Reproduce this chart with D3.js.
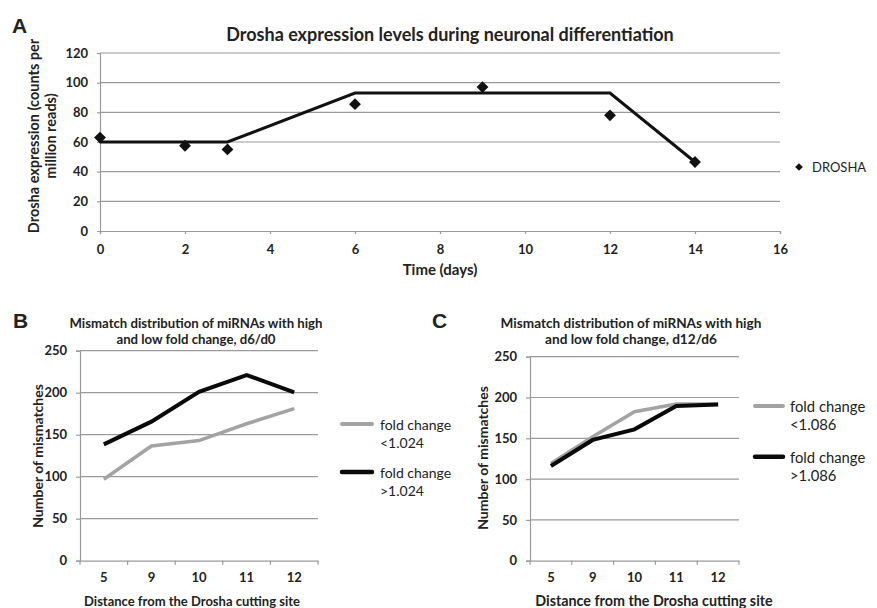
<!DOCTYPE html>
<html>
<head>
<meta charset="utf-8">
<script src="https://cdn.jsdelivr.net/npm/d3@7"></script>
<style>
  body { margin: 0; background: #fff; }
  svg { display: block; }
  text { font-family: Lato, "Open Sans", sans-serif; fill: #222; }
</style>
</head>
<body>
<svg id="chart" width="877" height="608"></svg>
<script>
// panel A data
const days = [0, 2, 3, 6, 9, 12, 14];
const droshaCounts = [63, 57.5, 55, 85.5, 97, 78, 46.5];
const trendDays = [0, 3, 6, 12, 14];
const trendCounts = [60, 60, 93, 93, 46.5];
const timeTicks = [0, 2, 4, 6, 8, 10, 12, 14, 16];
const countTicks = [0, 20, 40, 60, 80, 100, 120];

// panels B and C
const distances = ['5', '9', '10', '11', '12'];
const mismatchTicks = [0, 50, 100, 150, 200, 250];
const lowB = [97, 136.5, 143, 163, 181];
const highB = [138.5, 165.5, 201, 221, 200.5];
const lowC = [119, 152, 182.5, 192, 192];
const highC = [116, 148, 161, 189.5, 191.5];

const svg = d3.select('#chart');
const gridColor = '#9a9a9a';
const grayLine = '#a3a3a3';

function styleAxis(ax) {
  ax.selectAll('path, line').attr('stroke', gridColor).attr('stroke-width', 1.2);
  ax.selectAll('text').style('font-size', '13px').style('font-weight', 'bold')
    .style('font-family', 'Lato, sans-serif').attr('fill', '#333');
}

// ----- panel A -----
const xA = d3.scaleLinear().domain([0, 16]).range([100, 780]);
const yA = d3.scaleLinear().domain([0, 120]).range([231, 53]);

const gA = svg.append('g');

gA.selectAll('line.grid')
  .data(countTicks.filter(d => d > 0))
  .join('line')
  .attr('x1', xA(0)).attr('x2', xA(16))
  .attr('y1', d => yA(d)).attr('y2', d => yA(d))
  .attr('stroke', gridColor).attr('stroke-width', 1.2);

const axisXA = gA.append('g')
  .attr('transform', `translate(0,${yA(0)})`)
  .call(d3.axisBottom(xA).tickValues(timeTicks).tickSize(3).tickPadding(11));
const axisYA = gA.append('g')
  .attr('transform', `translate(${xA(0)},0)`)
  .call(d3.axisLeft(yA).tickValues(countTicks).tickSize(3).tickPadding(9));
styleAxis(axisXA);
styleAxis(axisYA);

gA.append('path')
  .datum(trendDays.map((d, i) => [d, trendCounts[i]]))
  .attr('fill', 'none').attr('stroke', '#111').attr('stroke-width', 3)
  .attr('d', d3.line().x(d => xA(d[0])).y(d => yA(d[1])));

const diamond = d3.symbol().type(d3.symbolSquare).size(70);
gA.selectAll('path.pt')
  .data(days.map((d, i) => [d, droshaCounts[i]]))
  .join('path')
  .attr('class', 'pt')
  .attr('d', diamond)
  .attr('transform', d => `translate(${xA(d[0])},${yA(d[1])}) rotate(45)`)
  .attr('fill', '#111');

gA.append('path')
  .attr('d', d3.symbol().type(d3.symbolSquare).size(30))
  .attr('transform', 'translate(799,167) rotate(45)')
  .attr('fill', '#111');
gA.append('text').attr('x', 812).attr('y', 172)
  .style('font-size', '13px').text('DROSHA');

gA.append('text').attr('x', 450).attr('y', 41).attr('text-anchor', 'middle')
  .style('font-size', '18px').style('font-weight', 'bold')
  .text('Drosha expression levels during neuronal differentiation');
gA.append('text').attr('x', 440).attr('y', 275).attr('text-anchor', 'middle')
  .style('font-size', '15px').style('font-weight', 'bold').text('Time (days)');
gA.append('text')
  .attr('transform', 'translate(39,136) rotate(-90)').attr('text-anchor', 'middle')
  .style('font-size', '14.5px').style('font-weight', 'bold')
  .text('Drosha expression (counts per');
gA.append('text')
  .attr('transform', 'translate(56,136) rotate(-90)').attr('text-anchor', 'middle')
  .style('font-size', '14.5px').style('font-weight', 'bold')
  .text('million reads)');

svg.append('text').attr('x', 12).attr('y', 33)
  .style('font-family', '"Liberation Sans", Arial, sans-serif')
  .style('font-size', '21px').style('font-weight', 'bold').attr('fill', '#111').text('A');

// ----- panels B and C -----
function mismatchPanel(opt) {
  const g = svg.append('g');
  const x = d3.scaleBand().domain(distances).range([opt.x0, opt.x1]);
  const y = d3.scaleLinear().domain([0, 250]).range([opt.yBottom, opt.yTop]);

  g.selectAll('line.grid')
    .data(mismatchTicks.filter(d => d > 0))
    .join('line')
    .attr('x1', opt.x0).attr('x2', opt.x1)
    .attr('y1', d => y(d)).attr('y2', d => y(d))
    .attr('stroke', gridColor).attr('stroke-width', 1.2);

  const ax = g.append('g').attr('transform', `translate(0,${opt.yBottom})`)
    .call(d3.axisBottom(x).tickSize(0).tickPadding(12.5));
  // category boundary ticks
  ax.selectAll('line.bound')
    .data(d3.range(distances.length + 1))
    .join('line')
    .attr('class', 'bound')
    .attr('x1', i => opt.x0 + i * x.step()).attr('x2', i => opt.x0 + i * x.step())
    .attr('y1', 0).attr('y2', 4);
  const ay = g.append('g').attr('transform', `translate(${opt.x0},0)`)
    .call(d3.axisLeft(y).tickValues(mismatchTicks).tickSize(4).tickPadding(9));
  styleAxis(ax);
  styleAxis(ay);

  const line = d3.line().x((d, i) => x(distances[i]) + x.bandwidth() / 2).y(d => y(d));
  g.append('path').datum(opt.low)
    .attr('fill', 'none').attr('stroke', grayLine).attr('stroke-width', 3.5)
    .attr('d', line);
  g.append('path').datum(opt.high)
    .attr('fill', 'none').attr('stroke', '#0a0a0a').attr('stroke-width', 4)
    .attr('d', line);

  // legend
  const lg = g.append('g').attr('transform', `translate(${opt.legX},${opt.legY})`);
  [[grayLine, 3.5, '<' + opt.cut, 0], ['#0a0a0a', 4, '>' + opt.cut, opt.legGap]].forEach(([c, w, lab, dy]) => {
    lg.append('line').attr('x1', 0).attr('x2', opt.legLen).attr('y1', dy).attr('y2', dy)
      .attr('stroke', c).attr('stroke-width', w + 0.5).attr('stroke-linecap', 'round');
    lg.append('text').attr('x', opt.legText).attr('y', dy + 6).style('font-size', opt.legFont).text('fold change');
    lg.append('text').attr('x', opt.legText).attr('y', dy + 24).style('font-size', opt.legFont).text(lab);
  });

  g.append('text').attr('x', opt.titleX).attr('y', opt.titleY).attr('text-anchor', 'middle')
    .style('font-size', opt.titleFont).style('font-weight', 'bold')
    .text('Mismatch distribution of miRNAs with high');
  g.append('text').attr('x', opt.titleX).attr('y', opt.titleY + 16).attr('text-anchor', 'middle')
    .style('font-size', opt.titleFont).style('font-weight', 'bold')
    .text('and low fold change, ' + opt.ratio);
  g.append('text').attr('x', opt.xLabX).attr('y', 606).attr('text-anchor', 'middle')
    .style('font-size', opt.xLabFont).style('font-weight', 'bold')
    .text('Distance from the Drosha cutting site');
  g.append('text')
    .attr('transform', `translate(${opt.yLabX},${opt.yLabY}) rotate(-90)`)
    .attr('text-anchor', 'middle')
    .style('font-size', '14px').style('font-weight', 'bold')
    .text('Number of mismatches');

  svg.append('text').attr('x', opt.letterX).attr('y', 328)
    .style('font-family', '"Liberation Sans", Arial, sans-serif')
    .style('font-size', '21px').style('font-weight', 'bold').attr('fill', '#111').text(opt.letter);
}

mismatchPanel({
  letter: 'B', letterX: 13, x0: 80, x1: 318, yTop: 350.7, yBottom: 560.7,
  low: lowB, high: highB, cut: '1.024', ratio: 'd6/d0',
  legX: 342, legY: 424, legGap: 48, legLen: 30, legText: 38, legFont: '14px',
  titleX: 196, titleY: 327.5, titleFont: '13.2px',
  xLabX: 192, xLabFont: '13px', yLabX: 43, yLabY: 456
});
mismatchPanel({
  letter: 'C', letterX: 432, x0: 530, x1: 739, yTop: 356.7, yBottom: 560.7,
  low: lowC, high: highC, cut: '1.086', ratio: 'd12/d6',
  legX: 755, legY: 406, legGap: 50.7, legLen: 28, legText: 35, legFont: '14.8px',
  titleX: 631, titleY: 327.5, titleFont: '13.6px',
  xLabX: 654, xLabFont: '14.3px', yLabX: 488, yLabY: 458
});
</script>
</body>
</html>
